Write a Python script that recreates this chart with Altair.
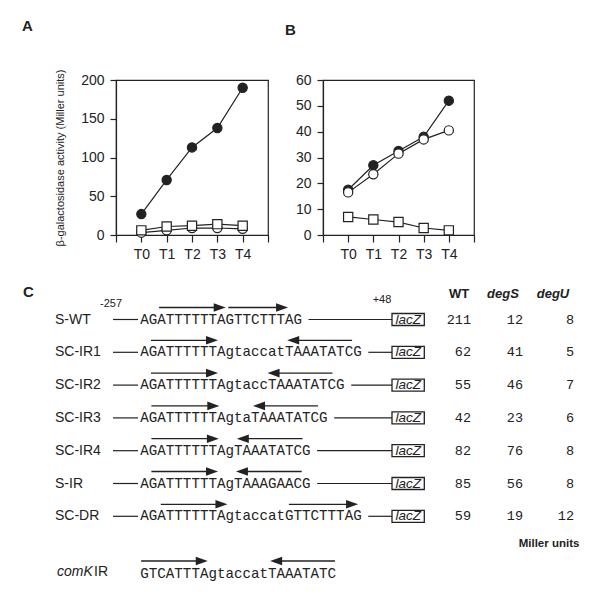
import json
import altair as alt
import pandas as pd

# ---------------- data ----------------
TIMES = ["T0", "T1", "T2", "T3", "T4"]
A_FILLED = [27, 71, 113, 138, 190]
A_OPEN = [3, 6, 9, 9, 8]
A_SQUARE = [6, 11, 12, 14, 12]
B_FILLED = [17.5, 27, 32.5, 38, 52]
B_OPEN = [16.5, 23.5, 31.5, 37, 40.5]
B_SQUARE = [7, 6, 5, 2.7, 1.8]
A_YTICKS = [0, 50, 100, 150, 200]
B_YTICKS = [0, 10, 20, 30, 40, 50, 60]
Y_TITLE = "β-galactosidase activity (Miller units)"

STRAINS = ["S-WT", "SC-IR1", "SC-IR2", "SC-IR3", "SC-IR4", "S-IR", "SC-DR"]
SEQUENCES = [
    "AGATTTTTTAGTTCTTTAG",
    "AGATTTTTTAgtaccatTAAATATCG",
    "AGATTTTTTAgtaccTAAATATCG",
    "AGATTTTTTAgtaTAAATATCG",
    "AGATTTTTTAgTAAATATCG",
    "AGATTTTTTAgTAAAGAACG",
    "AGATTTTTTAgtaccatGTTCTTTAG",
]
WT = [211, 62, 55, 42, 82, 85, 59]
DEGS = [12, 41, 46, 23, 76, 56, 19]
DEGU = [8, 5, 7, 6, 8, 8, 12]
COLUMNS = ["WT", "degS", "degU"]
COMK_SEQ = "GTCATTTAgtaccatTAAATATC"
# arrows over sequences, in character units (row 7 = comK IR)
ARROW_ROW = [0, 0, 1, 1, 2, 2, 3, 3, 4, 4, 5, 5, 6, 6, 7, 7]
ARROW_TAIL = [2.2, 10.3, 1.25, 24.8, 1.25, 22.5, 1.3, 20.8, 1.3, 19.0, 1.3, 18.9, 2.4, 17.4, 0.1, 22.8]
ARROW_HEAD = [10.0, 17.3, 9.1, 17.2, 9.1, 14.9, 9.25, 13.2, 9.2, 11.3, 9.1, 11.2, 10.2, 25.5, 7.9, 15.2]

# ---------------- style / layout ----------------
INK = "#222222"
SANS = "Liberation Sans"
MONO = "Liberation Mono"

# panel C geometry (x relative to the left edge of panel A's plot area)
CW, CH = 465, 300
ROW_Y0, ROW_STEP = 38.5, 32.8
COMK_Y = 292
LETTER_X = -93
LABEL_X = -61
LEAD_X1, LEAD_X2 = -3, 22
SEQ_X, CHAR_W = 24.3, 8.54
TRAIL_GAP = 6
BOX_X1, BOX_X2, BOX_HALF = 276, 308.3, 6
ARROW_DY = -12
NUM_X = [355, 407, 458]
HEADER_X = [343, 387, 437]
HEADER_Y = 13
COORD_X = [-5, 266]
COORD_Y = [23, 19]
MILLER_XY = (433, 263)
COMK_X = [-59, -22]


def growth_panel(filled, open_, square, yticks, width, height, letter, title_dx, ytitle):
    rows = []
    for name, vals in (("filled", filled), ("open", open_), ("square", square)):
        for i, v in enumerate(vals):
            rows.append({"series": name, "t": i, "value": v})
    df = pd.DataFrame(rows)
    n = len(TIMES)
    label_expr = (f"datum.value >= 0 && datum.value < {n} ? "
                  f"{json.dumps(TIMES)}[datum.value] : ''")
    xscale = alt.Scale(domain=[-1, n], nice=False, zero=False)
    xaxis = alt.Axis(values=list(range(-1, n + 1)), labelExpr=label_expr,
                     title=None, grid=False, tickSize=7, labelPadding=5,
                     labelFontSize=14, labelFlush=False, labelOverlap=False,
                     labelSeparation=-50)
    yaxis = dict(values=yticks, grid=False, tickSize=6, labelPadding=6,
                 labelFontSize=14, labelOverlap=False)
    if ytitle:
        yaxis.update(title=ytitle, titleFontSize=11, titleFontWeight="normal",
                     titlePadding=15)
    else:
        yaxis.update(title=None)
    yscale = alt.Scale(domain=[yticks[0], yticks[-1]], nice=False)
    yax = alt.Axis(**yaxis)

    def enc_x():
        return alt.X("t:Q", scale=xscale, axis=xaxis)

    def enc_y():
        return alt.Y("value:Q", scale=yscale, axis=yax)

    base = alt.Chart(df)
    line = base.mark_line(color=INK, strokeWidth=1.2).encode(x=enc_x(), y=enc_y(), detail="series:N")
    sdom = ["filled", "open", "square"]
    pts = base.mark_point(filled=True, stroke=INK, strokeWidth=1.2, opacity=1).encode(
        x=enc_x(), y=enc_y(),
        shape=alt.Shape("series:N", scale=alt.Scale(domain=sdom, range=["circle", "circle", "square"]), legend=None),
        fill=alt.Fill("series:N", scale=alt.Scale(domain=sdom, range=[INK, "white", "white"]), legend=None),
        size=alt.Size("series:N", scale=alt.Scale(domain=sdom, range=[85, 85, 95]), legend=None),
    )
    return alt.layer(line, pts).properties(
        width=width, height=height,
        title=alt.TitleParams(letter, anchor="start", frame="group", dx=title_dx,
                              offset=35, fontSize=15, fontWeight="bold", font=SANS, color=INK),
    )


panel_a = growth_panel(A_FILLED, A_OPEN, A_SQUARE, A_YTICKS, 152, 155, "A", -94, Y_TITLE)
panel_b = growth_panel(B_FILLED, B_OPEN, B_SQUARE, B_YTICKS, 151, 155, "B", -38, None)

# ---------------- panel C ----------------
xs = alt.Scale(domain=[0, CW], nice=False, zero=False)
ys = alt.Scale(domain=[0, CH], nice=False, zero=False, reverse=True)


def X(f="x"):
    return alt.X(f"{f}:Q", scale=xs, axis=None)


def Y(f="y"):
    return alt.Y(f"{f}:Q", scale=ys, axis=None)


def note(x, y, t):
    return alt.Chart(pd.DataFrame({"x": x, "y": y, "t": t}))


row_y = [ROW_Y0 + i * ROW_STEP for i in range(len(STRAINS))]
rows = pd.DataFrame({
    "strain": STRAINS,
    "seq": SEQUENCES,
    "y": row_y,
    "lx": LABEL_X,
    "lead1": LEAD_X1,
    "lead2": LEAD_X2,
    "sx": SEQ_X,
    "trail1": [SEQ_X + len(s) * CHAR_W + TRAIL_GAP for s in SEQUENCES],
    "bx1": BOX_X1, "bx2": BOX_X2,
    "by1": [y - BOX_HALF for y in row_y], "by2": [y + BOX_HALF for y in row_y],
    "bxc": (BOX_X1 + BOX_X2) / 2,
    "lac": "lacZ",
})

nums = []
for c, vals in enumerate((WT, DEGS, DEGU)):
    for i, v in enumerate(vals):
        nums.append({"x": NUM_X[c], "y": row_y[i], "text": str(v)})
nums = pd.DataFrame(nums)

all_y = row_y + [COMK_Y]
arrows = pd.DataFrame({"row": ARROW_ROW, "tail": ARROW_TAIL, "head": ARROW_HEAD})
arrows["y"] = [all_y[r] + ARROW_DY for r in arrows["row"]]
arrows["x1"] = SEQ_X + arrows["tail"] * CHAR_W
arrows["xh"] = SEQ_X + arrows["head"] * CHAR_W
arrows["dir"] = ["R" if h > t else "L" for t, h in zip(ARROW_TAIL, ARROW_HEAD)]
arrows["x2"] = arrows["xh"] - [6 if d == "R" else -6 for d in arrows["dir"]]

c_base = alt.Chart(rows)

letter_c = note([LETTER_X], [11], ["C"]).mark_text(
    align="left", baseline="middle", font=SANS, fontSize=15, fontWeight="bold", color=INK
).encode(x=X(), y=Y(), text="t:N")

hdr_wt = note(HEADER_X[:1], [HEADER_Y], COLUMNS[:1]).mark_text(
    align="center", baseline="middle", font=SANS, fontSize=13, fontWeight="bold", color=INK
).encode(x=X(), y=Y(), text="t:N")
hdr_mut = note(HEADER_X[1:], [HEADER_Y] * 2, COLUMNS[1:]).mark_text(
    align="center", baseline="middle", font=SANS, fontSize=13, fontWeight="bold",
    fontStyle="italic", color=INK
).encode(x=X(), y=Y(), text="t:N")

coords = note(COORD_X, COORD_Y, ["-257", "+48"]).mark_text(
    align="center", baseline="middle", font=SANS, fontSize=11, color=INK
).encode(x=X(), y=Y(), text="t:N")

labels = c_base.mark_text(align="left", baseline="middle", font=SANS, fontSize=14, color=INK).encode(
    x=X("lx"), y=Y(), text="strain:N")
lead = c_base.mark_rule(color=INK, strokeWidth=1.2).encode(x=X("lead1"), x2="lead2:Q", y=Y())
seqs = c_base.mark_text(align="left", baseline="middle", font=MONO, fontSize=14.2, color=INK).encode(
    x=X("sx"), y=Y(), text="seq:N")
trail = c_base.mark_rule(color=INK, strokeWidth=1.2).encode(x=X("trail1"), x2="bx1:Q", y=Y())
box = c_base.mark_rect(fill="white", stroke=INK, strokeWidth=1.3).encode(
    x=X("bx1"), x2="bx2:Q", y=Y("by1"), y2="by2:Q")
lac = c_base.mark_text(align="center", baseline="middle", font=SANS, fontSize=13.5,
                       fontStyle="italic", color=INK).encode(x=X("bxc"), y=Y(), text="lac:N")
numbers = alt.Chart(nums).mark_text(align="right", baseline="middle", font=MONO, fontSize=13.5,
                                    color=INK).encode(x=X(), y=Y(), text="text:N")
miller = note([MILLER_XY[0]], [MILLER_XY[1]], ["Miller units"]).mark_text(
    align="center", baseline="middle", font=SANS, fontSize=11.5, fontWeight="bold", color=INK
).encode(x=X(), y=Y(), text="t:N")

comk_it = note(COMK_X[:1], [COMK_Y - 1], ["comK"]).mark_text(
    align="left", baseline="middle", font=SANS, fontSize=14, fontStyle="italic", color=INK
).encode(x=X(), y=Y(), text="t:N")
comk_ir = note(COMK_X[1:], [COMK_Y - 1], ["IR"]).mark_text(
    align="left", baseline="middle", font=SANS, fontSize=14, color=INK
).encode(x=X(), y=Y(), text="t:N")
comk_seq = note([SEQ_X], [COMK_Y + 1], [COMK_SEQ]).mark_text(
    align="left", baseline="middle", font=MONO, fontSize=14.2, color=INK
).encode(x=X(), y=Y(), text="t:N")

shafts = alt.Chart(arrows).mark_rule(color=INK, strokeWidth=1.3).encode(x=X("x1"), x2="x2:Q", y=Y())
heads_r = alt.Chart(arrows[arrows["dir"] == "R"]).mark_point(
    shape="M-2,-0.72L0,0L-2,0.72Z", filled=True, size=144, opacity=1, color=INK, strokeWidth=0
).encode(x=X("xh"), y=Y())
heads_l = alt.Chart(arrows[arrows["dir"] == "L"]).mark_point(
    shape="M2,-0.72L0,0L2,0.72Z", filled=True, size=144, opacity=1, color=INK, strokeWidth=0
).encode(x=X("xh"), y=Y())

panel_c = alt.layer(
    letter_c, hdr_wt, hdr_mut, coords, labels, lead, trail, box, lac, seqs, numbers,
    miller, comk_it, comk_ir, comk_seq, shafts, heads_r, heads_l
).properties(width=CW, height=CH, view=alt.ViewBackground(stroke="transparent"))

top = alt.hconcat(panel_a, panel_b, spacing=14)
chart = alt.vconcat(top, panel_c, spacing=18).properties(
    padding={"left": 13, "top": 10, "right": 5, "bottom": 5}
).configure_view(stroke=INK, strokeWidth=1.2).configure_axis(
    domainColor=INK, tickColor=INK, labelColor=INK, titleColor=INK,
    labelFont=SANS, titleFont=SANS, domainWidth=1.2, tickWidth=1.2,
).configure_axisX(labelOverlap=False).configure_text(font=SANS)

chart.save("out.html", embed_options={"renderer": "svg", "actions": False})
